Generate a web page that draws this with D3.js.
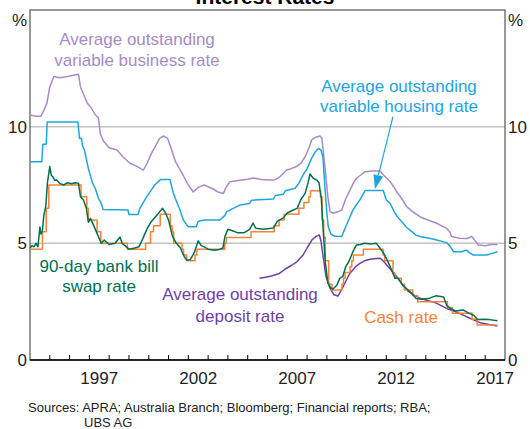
<!DOCTYPE html>
<html><head><meta charset="utf-8">
<script src="https://cdn.jsdelivr.net/npm/d3@7"></script>
<style>
html,body{margin:0;padding:0;background:#fff;}
svg{display:block;font-family:Arial,"Liberation Sans",sans-serif;}
</style></head>
<body>
<svg id="chart" width="530" height="429"></svg>
<script>
// ---- Data (decimal year, per cent) ----
const businessRate = [
[1994.0,10.5],[1994.3,10.45],[1994.55,10.45],[1994.7,10.7],[1994.85,11.0],[1995.0,11.7],[1995.2,12.15],
[1995.5,12.1],[1995.9,12.15],[1996.2,12.2],[1996.45,12.25],[1996.55,11.7],[1996.7,11.4],[1996.9,11.0],
[1997.1,10.8],[1997.3,10.5],[1997.45,10.4],[1997.55,9.7],[1997.7,9.4],[1998.0,9.1],[1998.4,9.0],[1998.7,8.7],
[1999.05,8.43],[1999.4,8.3],[1999.73,8.14],[1999.9,8.4],[2000.1,8.8],[2000.3,9.1],[2000.55,9.5],[2000.75,9.6],
[2000.95,9.5],[2001.16,9.0],[2001.35,8.5],[2001.55,8.2],[2001.75,7.9],[2002.0,7.5],[2002.25,7.2],[2002.5,7.4],
[2002.8,7.5],[2003.2,7.35],[2003.5,7.2],[2003.77,7.14],[2003.9,7.4],[2004.1,7.64],[2004.6,7.7],[2005.0,7.75],
[2005.28,7.8],[2005.8,7.72],[2006.3,7.71],[2006.55,7.8],[2006.72,7.93],[2006.97,8.14],[2007.2,8.2],[2007.47,8.29],
[2007.7,8.45],[2007.9,8.71],[2008.1,9.1],[2008.23,9.43],[2008.45,9.55],[2008.65,9.6],[2008.75,9.5],[2008.9,8.29],
[2009.05,7.0],[2009.16,6.36],[2009.33,6.29],[2009.55,6.35],[2009.75,6.43],[2009.95,6.9],[2010.17,7.29],[2010.35,7.6],
[2010.5,7.79],[2010.75,7.95],[2010.93,8.07],[2011.3,8.1],[2011.68,8.1],[2011.9,7.9],[2012.2,7.64],[2012.4,7.4],
[2012.53,7.21],[2012.8,6.9],[2013.03,6.57],[2013.35,6.35],[2013.7,6.14],[2014.1,6.0],[2014.55,5.86],[2014.8,5.75],
[2015.06,5.64],[2015.2,5.5],[2015.3,5.29],[2015.7,5.22],[2016.07,5.21],[2016.32,5.29],[2016.5,5.1],[2016.66,4.93],
[2017.0,4.9],[2017.3,4.95],[2017.62,4.95]
];
const housingRate = [
[1994.0,8.5],[1994.6,8.5],[1994.65,9.25],[1994.82,9.25],[1994.87,10.2],[1996.42,10.2],[1996.5,9.5],[1996.6,9.5],
[1996.65,9.2],[1996.75,9.0],[1996.95,8.2],[1997.15,7.6],[1997.3,7.35],[1997.45,6.95],[1997.6,6.7],[1997.7,6.45],
[1998.95,6.43],[1999.0,6.24],[1999.46,6.24],[1999.55,6.5],[1999.9,7.0],[2000.1,7.25],[2000.3,7.5],[2000.6,7.74],
[2001.07,7.74],[2001.24,7.16],[2001.4,6.8],[2001.58,6.43],[2001.75,6.0],[2001.92,5.79],[2002.0,5.71],[2002.4,5.71],
[2002.5,5.95],[2002.84,6.0],[2003.6,6.0],[2003.85,6.2],[2003.94,6.36],[2004.6,6.64],[2005.1,6.71],[2005.2,6.85],
[2006.1,6.89],[2006.3,6.9],[2006.4,7.05],[2006.8,7.1],[2006.9,7.25],[2007.4,7.36],[2007.6,7.6],[2007.8,7.93],
[2008.0,8.2],[2008.23,8.64],[2008.4,8.9],[2008.57,9.07],[2008.7,9.0],[2008.8,8.7],[2008.9,7.43],[2009.0,6.3],
[2009.07,5.71],[2009.2,5.4],[2009.4,5.3],[2009.75,5.29],[2009.9,5.6],[2010.17,6.14],[2010.3,6.4],[2010.45,6.6],
[2010.67,6.86],[2010.93,7.26],[2011.85,7.26],[2012.0,6.86],[2012.2,6.7],[2012.44,6.29],[2012.6,6.1],[2012.86,5.86],
[2013.0,5.7],[2013.29,5.5],[2013.5,5.35],[2013.7,5.29],[2014.3,5.2],[2015.06,5.03],[2015.2,4.9],[2015.4,4.64],
[2015.8,4.64],[2016.07,4.71],[2016.2,4.6],[2016.4,4.5],[2017.07,4.5],[2017.4,4.58],[2017.62,4.64]
];
const bankBillRate = [
[1994.0,4.8],[1994.1,4.9],[1994.2,4.85],[1994.3,5.0],[1994.4,4.85],[1994.5,5.7],[1994.55,5.4],[1994.62,5.5],
[1994.7,6.2],[1994.8,6.6],[1994.88,7.6],[1994.95,8.0],[1995.0,8.29],[1995.08,7.9],[1995.15,7.86],[1995.25,7.7],
[1995.35,7.71],[1995.5,7.57],[1995.7,7.5],[1995.9,7.6],[1996.1,7.55],[1996.3,7.6],[1996.45,7.57],[1996.55,7.0],
[1996.7,6.86],[1996.85,6.5],[1996.95,5.9],[1997.05,6.07],[1997.2,5.8],[1997.35,5.5],[1997.5,5.2],[1997.6,5.0],
[1997.75,5.14],[1998.0,4.95],[1998.3,5.0],[1998.55,5.27],[1998.65,5.0],[1998.8,4.9],[1999.0,4.75],[1999.3,4.8],
[1999.5,4.85],[1999.7,5.2],[1999.9,5.6],[2000.1,5.9],[2000.3,6.1],[2000.5,6.3],[2000.7,6.5],[2000.85,6.3],
[2001.0,6.0],[2001.2,5.3],[2001.4,5.0],[2001.6,4.8],[2001.75,4.5],[2001.9,4.29],[2002.1,4.3],[2002.3,4.6],
[2002.5,5.11],[2002.65,4.9],[2002.8,4.85],[2003.0,4.75],[2003.3,4.7],[2003.5,4.72],[2003.75,4.8],[2003.85,5.3],
[2004.0,5.6],[2004.2,5.55],[2004.5,5.45],[2004.8,5.45],[2005.1,5.6],[2005.27,5.87],[2005.4,5.65],[2005.8,5.6],
[2006.3,5.66],[2006.5,5.95],[2006.8,6.09],[2007.0,6.3],[2007.3,6.43],[2007.5,6.5],[2007.7,6.9],[2007.9,7.14],
[2008.05,7.6],[2008.15,7.97],[2008.3,7.8],[2008.5,7.7],[2008.6,7.6],[2008.72,6.9],[2008.82,5.5],[2008.92,4.2],
[2009.05,3.3],[2009.16,3.14],[2009.3,3.03],[2009.5,3.2],[2009.65,3.5],[2009.8,3.57],[2009.95,4.0],[2010.1,4.2],
[2010.35,4.71],[2010.5,4.93],[2010.7,4.95],[2010.9,5.0],[2011.2,4.97],[2011.5,5.0],[2011.68,4.8],[2011.85,4.6],
[2012.0,4.37],[2012.2,4.0],[2012.44,3.5],[2012.6,3.5],[2012.85,3.2],[2013.1,3.0],[2013.3,2.85],[2013.5,2.64],
[2013.8,2.6],[2014.2,2.65],[2014.5,2.75],[2014.9,2.7],[2015.05,2.35],[2015.2,2.23],[2015.5,2.1],[2015.9,2.14],
[2016.2,2.0],[2016.45,1.9],[2016.6,1.74],[2017.0,1.75],[2017.3,1.72],[2017.62,1.68]
];
const cashRate = [
[1994.0,4.75],[1994.63,5.5],[1994.82,6.5],[1994.95,7.5],[1996.58,7.0],[1996.87,6.5],[1996.95,6.0],[1997.39,5.5],
[1997.58,5.0],[1998.92,4.75],[1999.84,5.0],[2000.09,5.5],[2000.24,5.75],[2000.58,6.25],[2001.09,5.75],[2001.18,5.5],
[2001.26,5.0],[2001.68,4.75],[2001.76,4.5],[2001.92,4.25],[2002.34,4.5],[2002.43,4.75],[2003.84,5.0],[2003.92,5.25],
[2005.17,5.5],[2006.34,5.75],[2006.59,6.0],[2006.84,6.25],[2007.59,6.5],[2007.84,6.75],[2008.09,7.0],[2008.17,7.25],
[2008.68,7.0],[2008.76,6.0],[2008.84,5.25],[2008.92,4.25],[2009.09,3.25],[2009.26,3.0],[2009.76,3.25],[2009.84,3.5],
[2009.92,3.75],[2010.17,4.0],[2010.26,4.25],[2010.34,4.5],[2010.84,4.75],[2011.84,4.5],[2011.92,4.25],[2012.34,3.75],
[2012.43,3.5],[2012.76,3.25],[2012.92,3.0],[2013.34,2.75],[2013.59,2.5],[2015.09,2.25],[2015.34,2.0],[2016.34,1.75],
[2016.59,1.5],[2017.62,1.5]
];
const depositRate = [
[2005.6,3.5],[2005.9,3.55],[2006.2,3.6],[2006.6,3.71],[2006.9,3.9],[2007.2,4.05],[2007.48,4.21],[2007.8,4.5],
[2008.0,4.8],[2008.24,5.14],[2008.45,5.3],[2008.62,5.36],[2008.7,5.1],[2008.8,4.5],[2008.95,3.6],[2009.16,3.07],
[2009.35,2.8],[2009.56,2.74],[2009.8,3.1],[2010.0,3.45],[2010.17,3.72],[2010.45,4.0],[2010.67,4.14],[2010.9,4.25],
[2011.18,4.32],[2011.5,4.35],[2011.7,4.36],[2011.9,4.2],[2012.1,4.0],[2012.3,3.8],[2012.53,3.57],[2012.8,3.25],
[2013.1,2.95],[2013.37,2.79],[2013.7,2.65],[2014.0,2.57],[2014.5,2.45],[2015.05,2.21],[2015.4,2.1],[2015.7,2.0],
[2016.2,1.8],[2016.74,1.6],[2017.2,1.52],[2017.62,1.46]
];
const yTicks = [0, 5, 10];
const gridValues = [5, 10];
const yearLabels = [1997, 2002, 2007, 2012, 2017];
const yearTicks = d3.range(1995, 2018);

// ---- Layout ----
const svg = d3.select("#chart");
const L = 30, R = 505, T = 10, B = 360;
const x = d3.scaleLinear().domain([1994, 2018]).range([L, R]);
const y = d3.scaleLinear().domain([0, 15]).range([B, T]);
const font = 'Arial, "Liberation Sans", sans-serif';

// Title (partially cut off at top)
svg.append("text").attr("x", 265).attr("y", 4).attr("text-anchor", "middle")
  .attr("font-size", 21).attr("font-weight", "bold").attr("fill", "#000").text("Interest Rates");

// Gridlines
svg.selectAll(".grid").data(gridValues).enter().append("line")
  .attr("x1", L).attr("x2", R).attr("y1", d => y(d)).attr("y2", d => y(d))
  .attr("stroke", "#c4c4c4").attr("stroke-width", 1.5);

// Frame
svg.append("rect").attr("x", L).attr("y", T).attr("width", R - L).attr("height", B - T)
  .attr("fill", "none").attr("stroke", "#555").attr("stroke-width", 1.2);

// Bottom axis with inward ticks
svg.append("line").attr("x1", L).attr("x2", R).attr("y1", B).attr("y2", B)
  .attr("stroke", "#000").attr("stroke-width", 1.5);
svg.selectAll(".xt").data(yearTicks).enter().append("line")
  .attr("x1", d => x(d)).attr("x2", d => x(d)).attr("y1", B).attr("y2", B - 5)
  .attr("stroke", "#000").attr("stroke-width", 1);
svg.selectAll(".xl").data(yearLabels).enter().append("text")
  .attr("x", d => x(d + 0.5)).attr("y", 384).attr("text-anchor", "middle")
  .attr("font-size", 17).attr("fill", "#222").text(d => d);

// Y labels both sides
svg.selectAll(".yl").data(yTicks).enter().append("text")
  .attr("x", L - 3).attr("y", d => y(d)).attr("dy", "0.36em").attr("text-anchor", "end")
  .attr("font-size", 17).attr("fill", "#222").text(d => d);
svg.selectAll(".yr").data(yTicks).enter().append("text")
  .attr("x", R + 3).attr("y", d => y(d)).attr("dy", "0.36em").attr("text-anchor", "start")
  .attr("font-size", 17).attr("fill", "#222").text(d => d);
svg.append("text").attr("x", L - 3).attr("y", 26).attr("text-anchor", "end")
  .attr("font-size", 17).attr("fill", "#222").text("%");
svg.append("text").attr("x", R + 3).attr("y", 26).attr("text-anchor", "start")
  .attr("font-size", 17).attr("fill", "#222").text("%");

// Lines
const line = d3.line().x(d => x(d[0])).y(d => y(d[1]));
const stepLine = d3.line().x(d => x(d[0])).y(d => y(d[1])).curve(d3.curveStepAfter);
const series = [
  {data: businessRate, color: "#a98bc6", gen: line},
  {data: housingRate, color: "#1ea5df", gen: line},
  {data: depositRate, color: "#6f3fa6", gen: line},
  {data: cashRate, color: "#f68338", gen: stepLine},
  {data: bankBillRate, color: "#00704f", gen: line}
];
svg.selectAll(".series").data(series).enter().append("path")
  .attr("d", d => d.gen(d.data)).attr("fill", "none")
  .attr("stroke", d => d.color).attr("stroke-width", 1.5).attr("stroke-linejoin", "round");

// Annotations
function label(lines, cx, y0, color, lh) {
  lines.forEach((t, i) => {
    svg.append("text").attr("x", cx).attr("y", y0 + i * lh).attr("text-anchor", "middle")
      .attr("font-size", 17).attr("fill", color).text(t);
  });
}
label(["Average outstanding", "variable business rate"], 137, 45, "#a98bc6", 20.5);
label(["Average outstanding", "variable housing rate"], 399, 92, "#1ea5df", 20);
label(["90-day bank bill", "swap rate"], 99, 272, "#00704f", 20);
label(["Average outstanding", "deposit rate"], 240, 300, "#6f3fa6", 22);
label(["Cash rate"], 401, 323, "#f68338", 20);

// Arrow to housing line
const ax1 = x(2012.34), ay1 = y(10.43), ax2 = x(2011.43), ay2 = y(7.33);
const ang = Math.atan2(ay2 - ay1, ax2 - ax1);
const hl = 14, hw = 5;
const bx = ax2 - hl * Math.cos(ang), by = ay2 - hl * Math.sin(ang);
svg.append("line").attr("x1", ax1).attr("y1", ay1).attr("x2", bx).attr("y2", by)
  .attr("stroke", "#1ea5df").attr("stroke-width", 1.2);
svg.append("path").attr("d", `M${ax2},${ay2}L${bx + hw * Math.sin(ang)},${by - hw * Math.cos(ang)}L${bx - hw * Math.sin(ang)},${by + hw * Math.cos(ang)}Z`)
  .attr("fill", "#1ea5df");

// Sources
svg.append("text").attr("x", 28).attr("y", 412).attr("font-size", 13).attr("fill", "#222")
  .text("Sources: APRA; Australia Branch; Bloomberg; Financial reports; RBA;");
svg.append("text").attr("x", 84).attr("y", 427).attr("font-size", 13).attr("fill", "#222")
  .text("UBS AG");
</script>
</body></html>
